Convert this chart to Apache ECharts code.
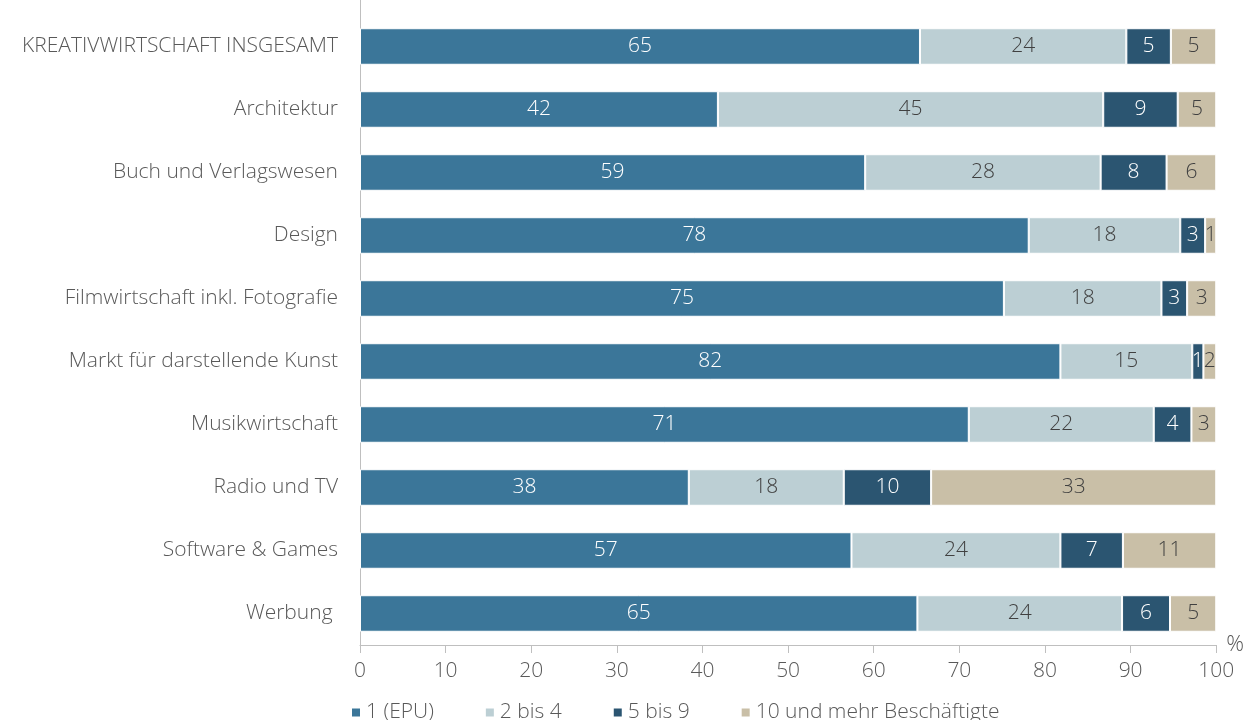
<!DOCTYPE html>
<html><head><meta charset="utf-8">
<script src="https://cdn.jsdelivr.net/npm/echarts@6/dist/echarts.min.js"></script>
<style>html,body{margin:0;padding:0;background:#fff}#c{width:1247px;height:720px}</style>
</head><body><div id="c"></div>
<script>
const categories = ["KREATIVWIRTSCHAFT INSGESAMT","Architektur","Buch und Verlagswesen","Design","Filmwirtschaft inkl. Fotografie","Markt für darstellende Kunst","Musikwirtschaft","Radio und TV","Software & Games","Werbung "];
const seriesNames = ["1 (EPU)","2 bis 4","5 bis 9","10 und mehr Beschäftigte"];
const epu = [65.4,41.8,59.0,78.1,75.2,81.8,71.1,38.4,57.4,65.1];
const b2to4 = [24.1,45.0,27.5,17.7,18.4,15.4,21.6,18.1,24.4,23.9];
const b5to9 = [5.2,8.7,7.7,2.9,3.0,1.3,4.4,10.2,7.3,5.6];
const b10plus = [5.3,4.5,5.8,1.3,3.4,1.5,2.9,33.3,10.9,5.4];
const xTicks = {min:0,max:100,interval:10};

const colors = ["#3b7699","#bccfd4","#2b5571","#c9bfa7"];
const labelColors = ["#ffffff","#404040","#ffffff","#404040"];
const FONT = "'Open Sans', sans-serif";
const all = [epu,b2to4,b5to9,b10plus];

const chart = echarts.init(document.getElementById('c'));
chart.setOption({
  animation:false,
  textStyle:{fontFamily:FONT},
  grid:{left:360,right:30,top:15,bottom:75,containLabel:false},
  legend:{
    top:697,left:345,itemWidth:10,itemHeight:10,itemGap:50,icon:'rect',
    textStyle:{fontFamily:FONT,fontSize:21,color:'#595959',fontWeight:300},
    data:seriesNames
  },
  xAxis:{
    type:'value',min:xTicks.min,max:xTicks.max,interval:xTicks.interval,
    name:'%',nameLocation:'end',nameGap:10,
    nameTextStyle:{fontFamily:FONT,fontSize:22,color:'#595959',fontWeight:300,verticalAlign:'middle',padding:[6,0,0,0]},
    axisLine:{show:true,lineStyle:{color:'#bfbfbf',width:1}},
    axisTick:{show:true,length:8,lineStyle:{color:'#bfbfbf'}},
    splitLine:{show:false},
    axisLabel:{fontFamily:FONT,fontSize:21,color:'#595959',fontWeight:300,margin:16}
  },
  yAxis:{
    type:'category',data:categories,inverse:true,
    axisLine:{show:true,lineStyle:{color:'#bfbfbf',width:1}},
    axisTick:{show:false},
    axisLabel:{fontFamily:FONT,fontSize:21,color:'#595959',fontWeight:300,margin:22}
  },
  graphic:[{type:'line',shape:{x1:360.5,y1:0,x2:360.5,y2:15},style:{stroke:'#bfbfbf',lineWidth:1}}],
  series: all.map((d,i)=>({
    name:seriesNames[i],type:'bar',stack:'total',barWidth:'58%',
    data:d,
    itemStyle:{color:colors[i],borderColor:'#ffffff',borderWidth:1},
    label:{show:true,position:'inside',color:labelColors[i],fontFamily:FONT,fontSize:21,fontWeight:300,
      formatter:p=>String(Math.round(p.value))}
  }))
});
</script></body></html>
